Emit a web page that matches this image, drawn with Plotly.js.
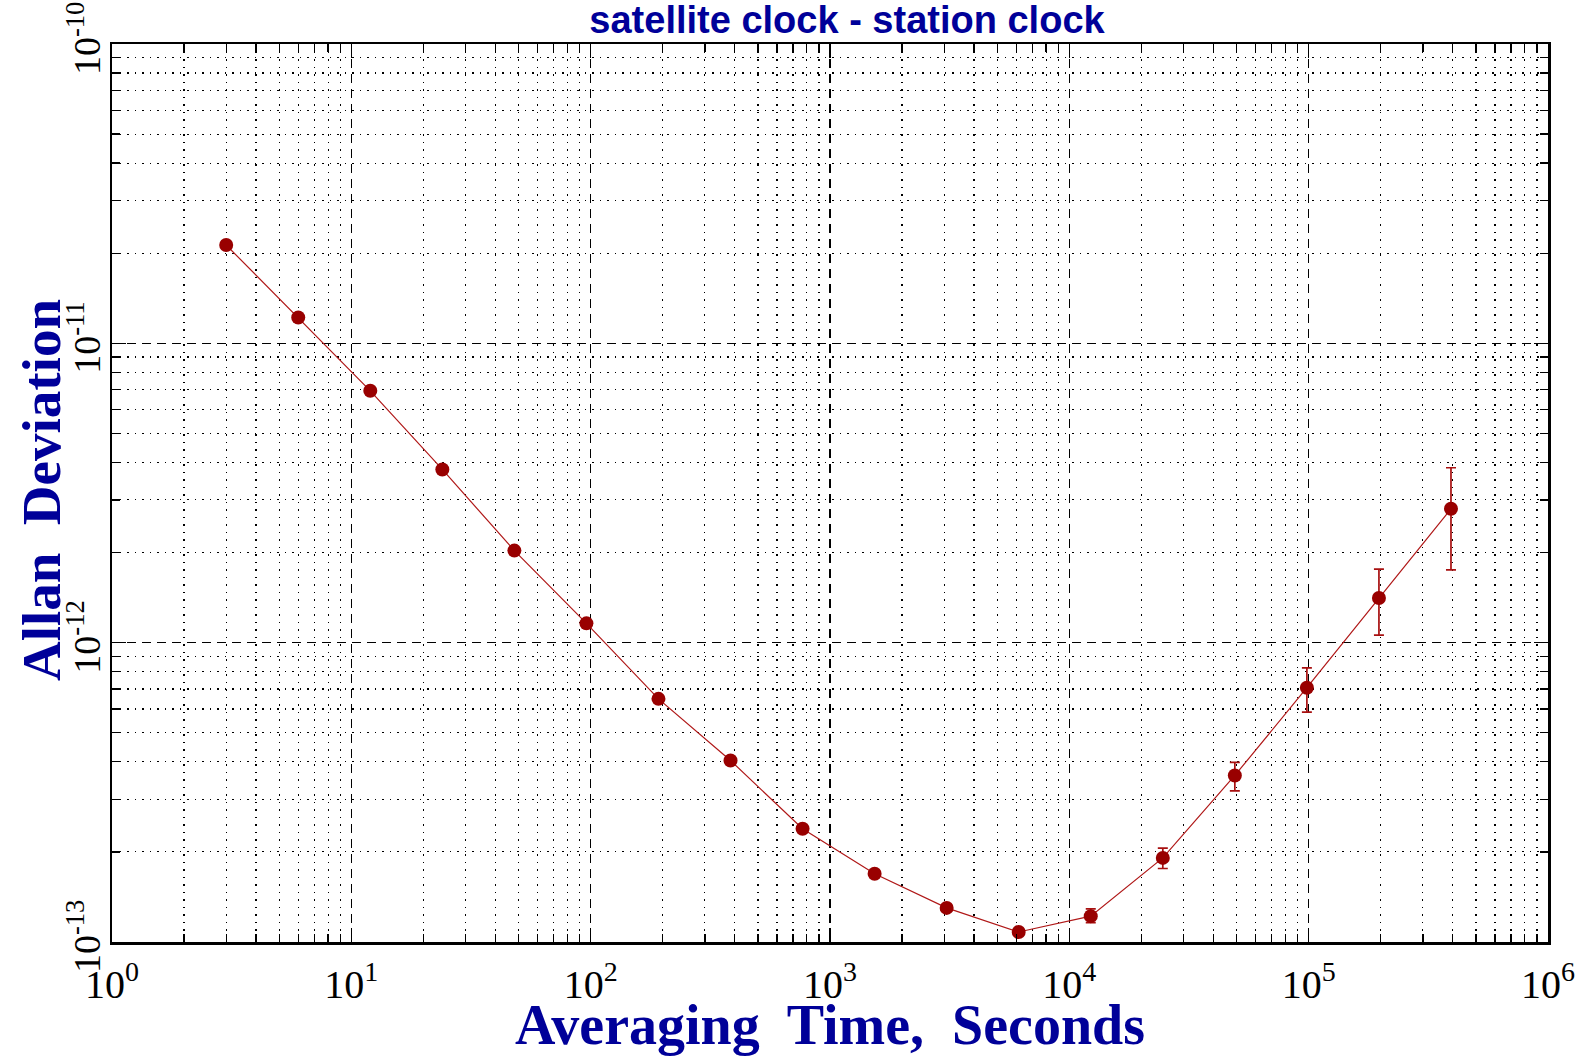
<!DOCTYPE html>
<html><head><meta charset="utf-8">
<script src="https://cdn.plot.ly/plotly-3.0.1.min.js"></script>
<style>html,body{margin:0;padding:0;background:#fff;}</style>
</head><body><div id="chart" style="width:1585px;height:1056px;"></div>
<script>
// ---- data ----
const tau = [3, 6, 12, 24, 48, 96, 192, 384, 768, 1536, 3072, 6144, 12288, 24576, 49152, 98304, 196608, 393216];
const adev = [2.13e-11, 1.22e-11, 6.94e-12, 3.79e-12, 2.03e-12, 1.16e-12, 6.49e-13, 4.04e-13, 2.39e-13, 1.69e-13, 1.30e-13, 1.08e-13, 1.22e-13, 1.91e-13, 3.60e-13, 7.07e-13, 1.41e-12, 2.80e-12];
const adevUpper = [2.13e-11, 1.22e-11, 6.94e-12, 3.79e-12, 2.03e-12, 1.16e-12, 6.49e-13, 4.04e-13, 2.39e-13, 1.69e-13, 1.31e-13, 1.10e-13, 1.29e-13, 2.06e-13, 3.98e-13, 8.24e-13, 1.76e-12, 3.84e-12];
const adevLower = [2.13e-11, 1.22e-11, 6.94e-12, 3.79e-12, 2.03e-12, 1.16e-12, 6.49e-13, 4.04e-13, 2.39e-13, 1.69e-13, 1.29e-13, 1.06e-13, 1.16e-13, 1.76e-13, 3.20e-13, 5.86e-13, 1.06e-12, 1.75e-12];
const xTickVals = [1, 10, 100, 1000, 10000, 100000, 1000000];
const xTickText = ['10<sup>0</sup>', '10<sup>1</sup>', '10<sup>2</sup>', '10<sup>3</sup>', '10<sup>4</sup>', '10<sup>5</sup>', '10<sup>6</sup>'];
const yTickVals = [1e-13, 1e-12, 1e-11, 1e-10];
const yTickText = ['10<sup>-13</sup>', '10<sup>-12</sup>', '10<sup>-11</sup>', '10<sup>-10</sup>'];
const chartTitle = 'satellite clock - station clock';
const xTitle = 'Averaging  Time,  Seconds';
const yTitle = 'Allan  Deviation';

// ---- helpers ----
function minorVals(lo, hi) {
  const v = [];
  for (let e = lo; e < hi; e++) for (let d = 2; d <= 9; d++) v.push(d * Math.pow(10, e));
  return v;
}
const errPlus = adev.map((v, i) => adevUpper[i] - v);
const errMinus = adev.map((v, i) => v - adevLower[i]);

const red = '#990000';
const trace = {
  x: tau, y: adev, type: 'scatter', mode: 'lines+markers',
  line: {color: '#b01818', width: 1.2},
  marker: {color: red, size: 14, symbol: 'circle'},
  error_y: {type: 'data', symmetric: false, array: errPlus, arrayminus: errMinus,
            color: '#a81010', thickness: 1.7, width: 5},
  hoverinfo: 'x+y', showlegend: false
};

const gridMajor = {showgrid: true, gridcolor: '#000', gridwidth: 1.3, griddash: '9px,6px'};
const commonAxis = {
  ticks: 'inside', ticklen: 14, tickwidth: 1.5, tickcolor: '#000',
  showline: true, linecolor: '#000', linewidth: 2.5, mirror: 'ticks',
  zeroline: false, automargin: false
};

const W = 1585, H = 1056, mL = 112, mR = 37, mT = 44, mB = 114;
const layout = {
  width: W, height: H,
  margin: {l: mL, r: mR, t: mT, b: mB},
  paper_bgcolor: '#fff', plot_bgcolor: '#fff',
  title: {text: chartTitle, x: 847 / W, xref: 'container', xanchor: 'center',
          y: 1 - 20 / H, yref: 'container', yanchor: 'middle',
          font: {family: 'Liberation Sans', size: 38, color: '#000099', weight: 'bold'}},
  xaxis: Object.assign({}, commonAxis, gridMajor, {
    type: 'log', range: [0, 6], tickmode: 'array', tickvals: xTickVals, ticktext: xTickText,
    tickfont: {family: 'Liberation Serif', size: 40, color: '#000'},
    ticklabelstandoff: 5,
    minor: {tickmode: 'array', tickvals: minorVals(0, 6), ticks: 'inside', ticklen: 8, tickwidth: 1.3,
            tickcolor: '#000', showgrid: true, gridcolor: '#000', gridwidth: 1.2, griddash: '1.5px,6px'},
    title: {text: xTitle, standoff: 9,
            font: {family: 'Liberation Serif', size: 56, color: '#000099', weight: 'bold'}}
  }),
  yaxis: Object.assign({}, commonAxis, gridMajor, {
    type: 'log', range: [-13, -10], tickmode: 'array', tickvals: yTickVals, ticktext: yTickText,
    tickangle: -90,
    tickfont: {family: 'Liberation Serif', size: 38, color: '#000'},
    ticklabelstandoff: -6,
    minor: {tickmode: 'array', tickvals: minorVals(-13, -10), ticks: 'inside', ticklen: 8, tickwidth: 1.3,
            tickcolor: '#000', showgrid: true, gridcolor: '#000', gridwidth: 1.2, griddash: '1.5px,6px'}
  }),
  annotations: [{
    text: yTitle, textangle: -90, showarrow: false,
    xref: 'paper', yref: 'paper',
    x: (42 - mL) / (W - mL - mR), y: 0.5 + (493 - 490) / (H - mT - mB),
    xanchor: 'center', yanchor: 'middle',
    font: {family: 'Liberation Serif', size: 55, color: '#000099', weight: 'bold'}
  }]
};

Plotly.newPlot('chart', [trace], layout, {displayModeBar: false, staticPlot: true});
</script>
</body></html>
